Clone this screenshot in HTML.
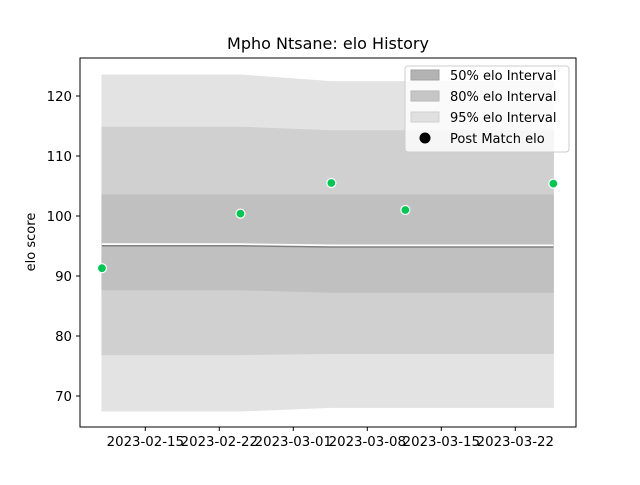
<!DOCTYPE html>
<html><head><meta charset="utf-8"><style>
body{margin:0;background:#fff}
svg{font-family:"DejaVu Sans","Liberation Sans",sans-serif}
</style></head><body>
<svg id="chart" width="640" height="480" viewBox="0 0 640 480">
<rect width="640" height="480" fill="#fff"/>
<text x="328" y="49" text-anchor="middle" font-size="16">Mpho Ntsane: elo History</text>
<g id="plot"></g>
<rect x="80" y="58" width="496" height="369" fill="none" stroke="#000" stroke-width="1"/>
<g id="xaxis"></g><g id="yaxis"></g>
<text transform="translate(35,242) rotate(-90)" text-anchor="middle" font-size="13">elo score</text>
<g>
<rect x="405" y="66" width="164" height="86" rx="3" fill="#fff" fill-opacity="0.8" stroke="#ccc"/>
<g><rect x="411" y="70" width="28" height="10" fill="#b3b3b3" stroke="#a0a0a0"/><text x="450" y="80" font-size="13">50% elo Interval</text></g>
<g><rect x="411" y="91" width="28" height="10" fill="#c6c6c6" stroke="#b5b5b5"/><text x="450" y="101" font-size="13">80% elo Interval</text></g>
<g><rect x="411" y="112" width="28" height="10" fill="#e0e0e0" stroke="#d0d0d0"/><text x="450" y="122" font-size="13">95% elo Interval</text></g>
<g><circle cx="425" cy="138" r="5.5" fill="#000"/><text x="450" y="143" font-size="13">Post Match elo</text></g>
</g>
</svg>
<script>
const days = [-4.1, 9.0, 17.6, 24.6, 38.6]; // days after 2023-02-15
const elo = [91.3, 100.4, 105.5, 101.0, 105.4];
const mean = [95.2, 95.2, 95.0, 95.0, 95.0];
const hi95 = [123.5, 123.5, 122.4, 122.4, 122.4];
const lo95 = [67.5, 67.5, 68.1, 68.1, 68.1];
const hi80 = [114.8, 114.8, 114.2, 114.2, 114.2];
const lo80 = [76.9, 76.9, 77.1, 77.1, 77.1];
const hi50 = [103.5, 103.5, 103.5, 103.5, 103.5];
const lo50 = [87.7, 87.7, 87.3, 87.3, 87.3];
const xTicks = [0, 7, 14, 21, 28, 35];
const xTickLabels = ["2023-02-15","2023-02-22","2023-03-01","2023-03-08","2023-03-15","2023-03-22"];
const yTicks = [70, 80, 90, 100, 110, 120];

const NS="http://www.w3.org/2000/svg";
const X = d => 145.3 + d * 74/7;
const Y = v => 96 + (120 - v) * 6;
function mk(tag, attrs, parent){const e=document.createElementNS(NS,tag);for(const k in attrs)e.setAttribute(k,attrs[k]);parent.appendChild(e);return e;}
const plot=document.getElementById('plot');
function band(hi, lo, fill, name){
  let pts=days.map((d,i)=>X(d)+','+Y(hi[i]));
  pts=pts.concat(days.map((d,i)=>X(d)+','+Y(lo[i])).reverse());
  const p=mk('polygon',{points:pts.join(' '),fill:fill,stroke:fill,'stroke-width':1},plot);
  
  
}
band(hi95, lo95, '#e3e3e3', 'band-95');
band(hi80, lo80, '#d0d0d0', 'band-80');
band(hi50, lo50, '#c0c0c0', 'band-50');
const linePts=days.map((d,i)=>X(d)+','+Y(mean[i])).join(' ');
mk('polyline',{points:linePts,fill:'none',stroke:'#fff','stroke-width':3},plot);
const ml=mk('polyline',{points:linePts,fill:'none',stroke:'#808080','stroke-width':1.5,transform:'translate(0,1)'},plot);


elo.forEach((v,i)=>{
  const c=mk('circle',{cx:X(days[i]),cy:Y(v),r:4.5,fill:'#00c853',stroke:'#fff','stroke-width':1.2},plot);
  
  
});
const xa=document.getElementById('xaxis');
xTicks.forEach((d,i)=>{
  const x=X(d);
  mk('line',{x1:x,x2:x,y1:427,y2:431,stroke:'#000'},xa);
  const t=mk('text',{x:x,y:446,'text-anchor':'middle','font-size':13.3},xa);
  t.textContent=xTickLabels[i];
  
  
});
const ya=document.getElementById('yaxis');
yTicks.forEach(v=>{
  const y=Y(v);
  mk('line',{x1:76,x2:80,y1:y,y2:y,stroke:'#000'},ya);
  const t=mk('text',{x:72,y:y+5,'text-anchor':'end','font-size':13.3},ya);
  t.textContent=v;
  
  
});
</script>
</body></html>
